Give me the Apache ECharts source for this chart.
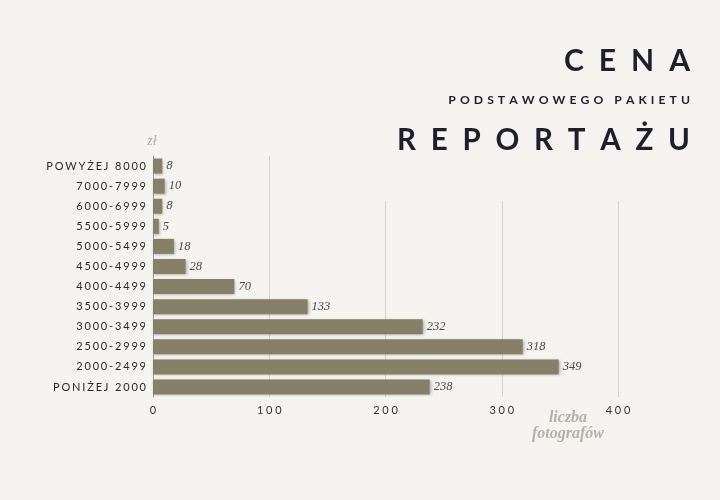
<!DOCTYPE html>
<html>
<head>
    <meta charset="UTF-8">
    <title>Cena podstawowego pakietu reportażu</title>
    <style>
        html, body {
            margin: 0;
            padding: 0;
            background: #f5f4f0;
        }

        #chart {
            width: 720px;
            height: 500px;
        }
    </style>
    <script src="https://cdn.jsdelivr.net/npm/echarts@6/dist/echarts.min.js"></script>
</head>
<body>
<div id="chart"></div>
<script>
    // price ranges (top to bottom as in the picture)
    var categories = ['POWYŻEJ 8000', '7000-7999', '6000-6999', '5500-5999', '5000-5499', '4500-4999',
        '4000-4499', '3500-3999', '3000-3499', '2500-2999', '2000-2499', 'PONIŻEJ 2000'];
    // number of photographers
    var values = [8, 10, 8, 5, 18, 28, 70, 133, 232, 318, 349, 238];
    var xTicks = [0, 100, 200, 300, 400];

    // spread letters out, like the tracked type of the original
    function spaced(s, gap) {
        return s.split('').join(gap);
    }

    var bg = '#f5f4f0';
    var chart = echarts.init(document.getElementById('chart'), null, {renderer: 'canvas'});

    chart.setOption({
        backgroundColor: bg,
        animation: false,
        grid: {left: 153, right: 102, top: 156, bottom: 103},
        xAxis: {
            type: 'value',
            min: xTicks[0],
            max: xTicks[xTicks.length - 1],
            interval: 100,
            axisLine: {show: false},
            axisTick: {show: false},
            splitLine: {lineStyle: {color: '#d6d4ce', width: 1}},
            axisLabel: {
                margin: 8,
                color: '#333',
                fontFamily: 'Lato',
                fontSize: 11,
                formatter: function (v) { return spaced(String(v), '\u2005'); }
            }
        },
        yAxis: {
            type: 'category',
            data: categories,
            inverse: true,
            axisLine: {show: true, onZero: false, lineStyle: {color: '#9a9a96', width: 1}},
            axisTick: {show: false},
            axisLabel: {
                margin: 7,
                color: '#2a2a2a',
                fontFamily: 'Lato',
                fontSize: 11,
                formatter: function (v) { return spaced(v, '\u2006'); }
            }
        },
        graphic: [
            {
                type: 'rect',
                z: 1,
                silent: true,
                shape: {x: 280, y: 0, width: 440, height: 201},
                style: {fill: bg}
            },
            {
                type: 'text',
                z: 10,
                right: 30,
                top: 46,
                style: {
                    text: spaced('CENA', '\u2002'),
                    fontFamily: 'Lato',
                    fontWeight: 'bold',
                    fontSize: 30,
                    fill: '#1e1f2b'
                }
            },
            {
                type: 'text',
                z: 10,
                right: 30,
                top: 94,
                style: {
                    text: spaced('PODSTAWOWEGO PAKIETU', '\u2004'),
                    fontFamily: 'Lato',
                    fontWeight: 'bold',
                    fontSize: 12.2,
                    fill: '#1e1f2b'
                }
            },
            {
                type: 'text',
                z: 10,
                right: 30,
                top: 125,
                style: {
                    text: spaced('REPORTAŻU', '\u2002'),
                    fontFamily: 'Lato',
                    fontWeight: 'bold',
                    fontSize: 29.5,
                    fill: '#1e1f2b'
                }
            },
            {
                type: 'text',
                z: 10,
                x: 152,
                y: 134,
                style: {
                    text: 'zł',
                    align: 'center',
                    fontFamily: 'Liberation Serif',
                    fontStyle: 'italic',
                    fontSize: 14,
                    fill: '#b0aeaa'
                }
            },
            {
                type: 'text',
                z: 10,
                x: 568,
                y: 410,
                style: {
                    text: 'liczba\nfotografów',
                    align: 'center',
                    fontFamily: 'Liberation Serif',
                    fontStyle: 'italic',
                    fontWeight: 'bold',
                    fontSize: 16,
                    lineHeight: 16,
                    fill: '#b3b1ac'
                }
            }
        ],
        series: [{
            type: 'bar',
            data: values,
            barWidth: 15,
            itemStyle: {
                color: '#868069',
                shadowColor: 'rgba(0,0,0,0.3)',
                shadowBlur: 3,
                shadowOffsetX: 1,
                shadowOffsetY: 1
            },
            label: {
                show: true,
                position: 'right',
                distance: 4,
                color: '#4a4a4a',
                fontFamily: 'Liberation Serif',
                fontStyle: 'italic',
                fontSize: 12.5
            }
        }]
    });
</script>
</body>
</html>
